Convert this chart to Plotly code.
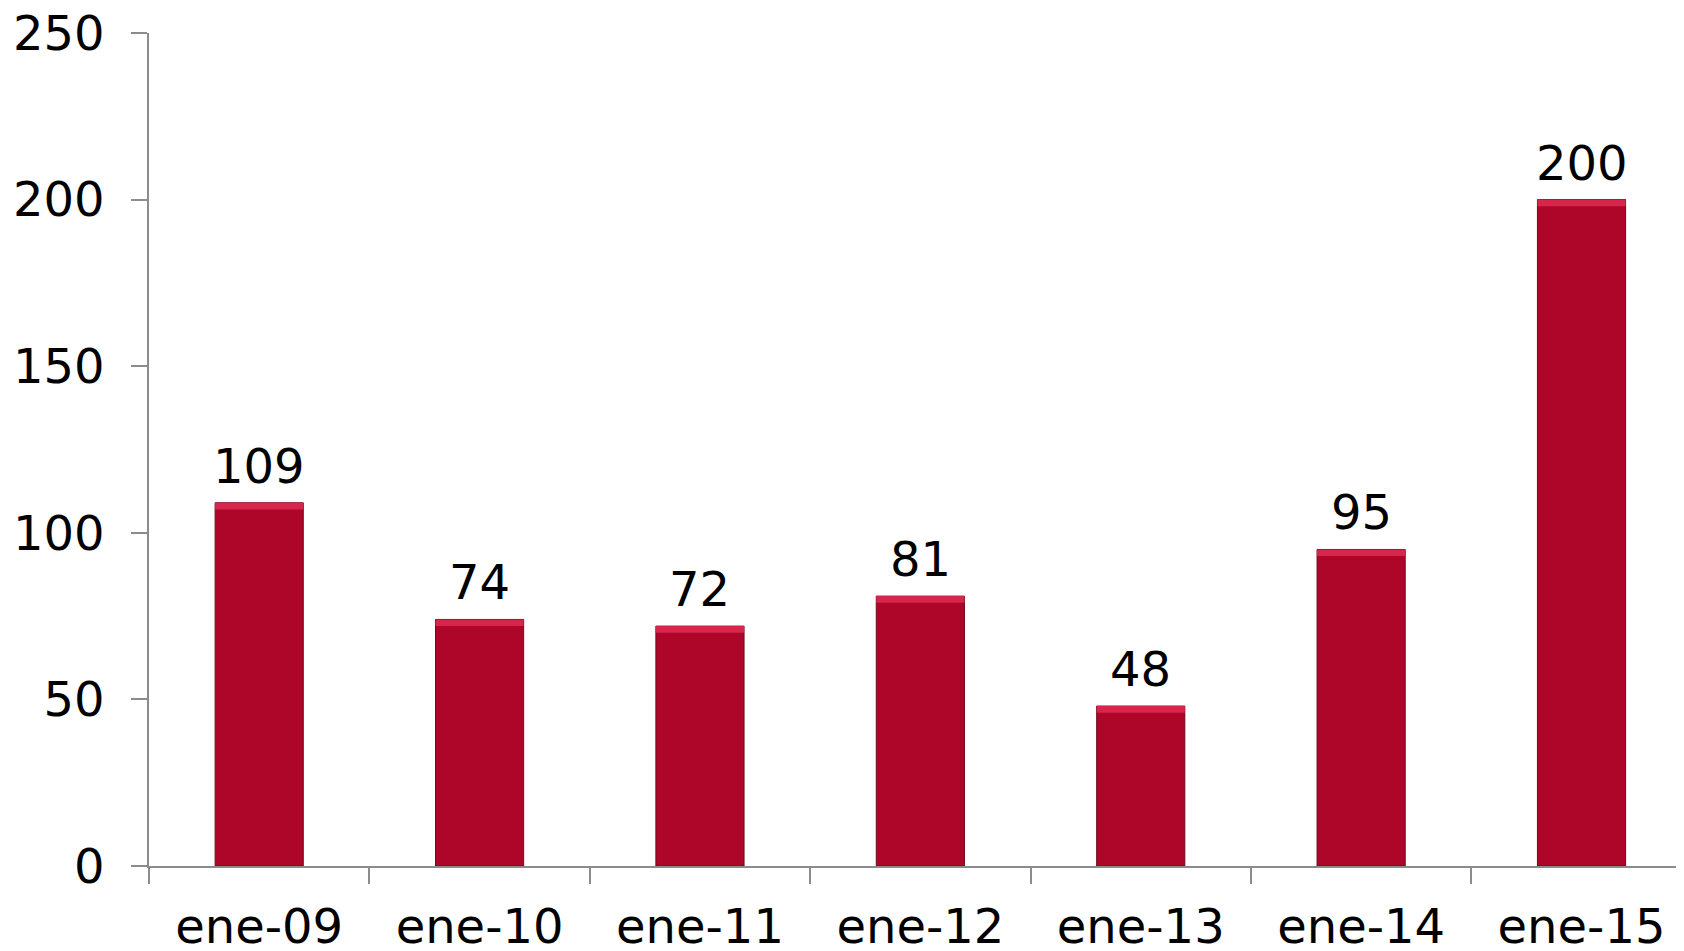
import plotly.graph_objects as go

categories = ["ene-09", "ene-10", "ene-11", "ene-12", "ene-13", "ene-14", "ene-15"]
values = [109, 74, 72, 81, 48, 95, 200]
y_ticks = [0, 50, 100, 150, 200, 250]

FONT = "DejaVu Sans, Verdana, sans-serif"
AXIS = "#8c8c8c"
FS = 48

fig = go.Figure()
fig.add_trace(go.Bar(
    x=categories, y=values, width=0.4,
    marker=dict(color="#ad0628", line=dict(color="#6e0a1c", width=1)),
    hoverinfo="x+y",
))
# top bevel highlight
hl = 2.0
fig.add_trace(go.Bar(
    x=categories, y=[hl] * len(values), base=[v - hl for v in values], width=0.4,
    marker=dict(color="#d6264c", line=dict(width=0)), hoverinfo="skip",
))

for c, v in zip(categories, values):
    fig.add_annotation(x=c, y=v, text=str(v), showarrow=False,
                       yanchor="bottom", yshift=7,
                       font=dict(family=FONT, size=FS, color="black"))

# page body has an 8px margin; size the figure so the page is 1684x951
fig.update_layout(
    width=1676, height=943,
    margin=dict(l=141, r=0, t=25, b=85, autoexpand=False),
    plot_bgcolor="white", paper_bgcolor="white",
    showlegend=False, barmode="overlay",
    font=dict(family=FONT, size=FS, color="black"),
)
fig.update_xaxes(
    type="category", range=[-0.5, 6.465], automargin=False,
    showline=True, linecolor=AXIS, linewidth=1.5,
    ticks="outside", ticklen=16, tickcolor=AXIS, tickwidth=1.5,
    tickson="boundaries", showgrid=False, ticklabelstandoff=18,
    ticklabeloverflow="allow",
    tickfont=dict(family=FONT, size=FS, color="black"),
)
fig.update_yaxes(
    range=[0, 250], tickvals=y_ticks, automargin=False,
    showline=True, linecolor=AXIS, linewidth=1.5,
    ticks="outside", ticklen=16, tickcolor=AXIS, tickwidth=1.5,
    showgrid=False, zeroline=False, ticklabelstandoff=17,
    ticklabeloverflow="allow",
    tickfont=dict(family=FONT, size=FS, color="black"),
)

fig.write_html("out.html")
